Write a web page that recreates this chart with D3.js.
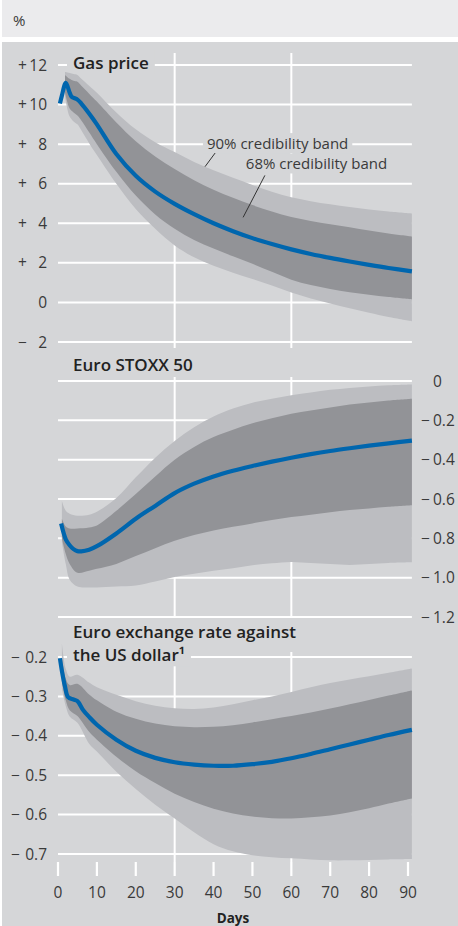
<!DOCTYPE html>
<html>
<head>
<meta charset="utf-8">
<script src="https://cdn.jsdelivr.net/npm/d3@7"></script>
<style>
body { margin: 0; background: #fff; }
svg { display: block; font-family: "Open Sans", sans-serif; }
</style>
</head>
<body>
<div id="chart"></div>
<script>
// x axis
var dayTicks = [0, 10, 20, 30, 40, 50, 60, 70, 80, 90];
var gridDays = [30, 60];

// Gas price
var gasTicks = [12, 10, 8, 6, 4, 2, 0, -2];
var gasDays = [0.5, 1, 2, 3, 3.5, 5, 6, 8, 10, 15, 20, 25, 30, 35, 40, 45, 50, 55, 60, 65, 70, 75, 80, 85, 91];
var gasMid = [10.05, 10.45, 11.1, 10.6, 10.4, 10.25, 10.05, 9.55, 9.0, 7.5, 6.4, 5.6, 4.98, 4.46, 4.0, 3.6, 3.25, 2.95, 2.68, 2.45, 2.25, 2.07, 1.9, 1.74, 1.57];
var gasBandDays = [1.8, 3, 4, 5, 6, 8, 10, 15, 20, 25, 30, 35, 40, 45, 50, 55, 60, 65, 70, 75, 80, 85, 91];
var gasU90 = [11.65, 11.6, 11.55, 11.5, 11.3, 10.95, 10.6, 9.6, 8.75, 8.1, 7.6, 7.1, 6.68, 6.3, 5.94, 5.6, 5.32, 5.12, 4.96, 4.82, 4.7, 4.6, 4.5];
var gasU68 = [11.5, 11.3, 11.2, 11.15, 10.95, 10.55, 10.15, 9.1, 8.15, 7.38, 6.75, 6.18, 5.7, 5.29, 4.92, 4.6, 4.32, 4.12, 3.95, 3.8, 3.63, 3.48, 3.33];
var gasL68 = [10.6, 9.8, 9.6, 9.45, 9.2, 8.6, 8.0, 6.6, 5.4, 4.45, 3.72, 3.15, 2.72, 2.33, 1.95, 1.55, 1.15, 0.88, 0.68, 0.52, 0.39, 0.27, 0.15];
var gasL90 = [10.4, 9.4, 9.15, 9.0, 8.7, 8.05, 7.45, 6.0, 4.72, 3.72, 2.88, 2.28, 1.85, 1.5, 1.18, 0.85, 0.5, 0.2, -0.05, -0.3, -0.52, -0.74, -0.95];

// Euro STOXX 50
var stoxxTicks = [0, -0.2, -0.4, -0.6, -0.8, -1.0, -1.2];
var stoxxDays = [0.8, 2, 3, 4, 5, 6, 8, 10, 15, 20, 25, 30, 35, 40, 45, 50, 55, 60, 65, 70, 75, 80, 85, 91];
var stoxxMid = [-0.725, -0.805, -0.835, -0.855, -0.865, -0.866, -0.858, -0.84, -0.775, -0.70, -0.635, -0.57, -0.522, -0.485, -0.456, -0.432, -0.41, -0.39, -0.372, -0.356, -0.342, -0.329, -0.317, -0.303];
var stoxxBandDays = [1, 2, 3, 5, 8, 10, 15, 20, 25, 30, 35, 40, 45, 50, 55, 60, 65, 70, 75, 80, 85, 91];
var stoxxU90 = [-0.61, -0.66, -0.675, -0.685, -0.68, -0.665, -0.595, -0.49, -0.39, -0.305, -0.235, -0.18, -0.14, -0.11, -0.09, -0.072, -0.058, -0.045, -0.035, -0.028, -0.022, -0.018];
var stoxxU68 = [-0.70, -0.74, -0.75, -0.75, -0.745, -0.735, -0.66, -0.575, -0.485, -0.40, -0.335, -0.285, -0.248, -0.215, -0.19, -0.167, -0.15, -0.135, -0.12, -0.109, -0.099, -0.09];
var stoxxL68 = [-0.80, -0.88, -0.93, -0.975, -0.965, -0.955, -0.93, -0.89, -0.85, -0.812, -0.783, -0.76, -0.741, -0.724, -0.707, -0.692, -0.68, -0.667, -0.656, -0.648, -0.64, -0.632];
var stoxxL90 = [-0.82, -0.93, -1.01, -1.045, -1.05, -1.05, -1.045, -1.04, -1.02, -0.997, -0.98, -0.965, -0.952, -0.937, -0.927, -0.92, -0.925, -0.93, -0.935, -0.93, -0.925, -0.922];

// Euro exchange rate against the US dollar
var fxTicks = [-0.2, -0.3, -0.4, -0.5, -0.6, -0.7];
var fxDays = [0.5, 1, 1.8, 2.6, 4, 5, 6.5, 8, 10, 15, 20, 25, 30, 35, 40, 45, 50, 55, 60, 65, 70, 75, 80, 85, 91];
var fxMid = [-0.203, -0.235, -0.275, -0.302, -0.308, -0.312, -0.335, -0.352, -0.372, -0.41, -0.438, -0.456, -0.467, -0.473, -0.476, -0.476, -0.472, -0.466, -0.457, -0.446, -0.434, -0.422, -0.41, -0.398, -0.385];
var fxBandDays = [1, 2, 3, 5, 8, 10, 15, 20, 25, 30, 35, 40, 45, 50, 55, 60, 65, 70, 75, 80, 85, 91];
var fxU90 = [-0.165, -0.23, -0.25, -0.245, -0.265, -0.277, -0.296, -0.312, -0.324, -0.33, -0.332, -0.328, -0.32, -0.31, -0.3, -0.289, -0.277, -0.266, -0.257, -0.249, -0.24, -0.229];
var fxU68 = [-0.2, -0.255, -0.271, -0.268, -0.295, -0.31, -0.339, -0.357, -0.369, -0.376, -0.378, -0.377, -0.373, -0.366, -0.358, -0.35, -0.341, -0.331, -0.32, -0.309, -0.298, -0.285];
var fxL68 = [-0.26, -0.31, -0.335, -0.35, -0.39, -0.41, -0.453, -0.49, -0.52, -0.547, -0.568, -0.585, -0.597, -0.605, -0.609, -0.61, -0.607, -0.602, -0.594, -0.584, -0.572, -0.559];
var fxL90 = [-0.28, -0.325, -0.351, -0.367, -0.42, -0.44, -0.491, -0.535, -0.575, -0.61, -0.645, -0.675, -0.693, -0.703, -0.708, -0.711, -0.714, -0.716, -0.716, -0.715, -0.714, -0.713];

var bg = "#d5d6d8", light = "#bcbdc1", dark = "#929397", blue = "#0066ae", ink = "#3a3a3a";

var svg = d3.select("#chart").append("svg")
    .attr("width", 458)
    .attr("height", 926);

svg.append("rect").attr("x", 2).attr("y", 0).attr("width", 456).attr("height", 37).attr("fill", "#ebebed");
svg.append("text").attr("x", 13).attr("y", 26).attr("font-size", 15).attr("fill", ink).text("%");
svg.append("rect").attr("x", 2).attr("y", 42).attr("width", 456).attr("height", 884).attr("fill", bg);

// layers, bottom to top
var gridLayer = svg.append("g");
var boxLayer = svg.append("g");
var bandLayer = svg.append("g");
var textLayer = svg.append("g");

var x = d3.scaleLinear().domain([0, 90]).range([58, 408]);

var fmt1 = function (v) { return v == 0 ? "0" : d3.format(".1f")(v); };

var panels = [
    {title: ["Gas price"], titleY: 68.5, y: d3.scaleLinear().domain([-2, 12]).range([342, 65]),
     ticks: gasTicks, fmt: d3.format("d"), side: "left", signX: 18, vTop: 53, vBottom: 348,
     days: gasDays, mid: gasMid, bandDays: gasBandDays, u90: gasU90, u68: gasU68, l68: gasL68, l90: gasL90},
    {title: ["Euro STOXX 50"], titleY: 370.5, y: d3.scaleLinear().domain([-1.2, 0]).range([617, 381]),
     ticks: stoxxTicks, fmt: fmt1, side: "right", signX: 421, vTop: 377, vBottom: 617,
     days: stoxxDays, mid: stoxxMid, bandDays: stoxxBandDays, u90: stoxxU90, u68: stoxxU68, l68: stoxxL68, l90: stoxxL90},
    {title: ["Euro exchange rate against", "the US dollar\u00b9"], titleY: 638, y: d3.scaleLinear().domain([-0.7, -0.2]).range([854, 657]),
     ticks: fxTicks, fmt: fmt1, side: "left", signX: 11, vTop: 652, vBottom: 862,
     days: fxDays, mid: fxMid, bandDays: fxBandDays, u90: fxU90, u68: fxU68, l68: fxL68, l90: fxL90}
];

function knockOut(node, padX, padY) {
    var b = node.getBBox();
    boxLayer.append("rect")
        .attr("x", b.x - padX).attr("y", b.y - padY)
        .attr("width", b.width + 2 * padX).attr("height", b.height + 2 * padY)
        .attr("fill", bg);
}

panels.forEach(function (p) {
    var g = gridLayer.append("g");

    g.selectAll(".h").data(p.ticks).enter().append("line")
        .attr("x1", x(0)).attr("x2", x(91))
        .attr("y1", function (d) { return p.y(d); })
        .attr("y2", function (d) { return p.y(d); })
        .attr("stroke", "#fff").attr("stroke-width", 2);

    g.selectAll(".v").data(gridDays).enter().append("line")
        .attr("x1", function (d) { return x(d); })
        .attr("x2", function (d) { return x(d); })
        .attr("y1", p.vTop).attr("y2", p.vBottom)
        .attr("stroke", "#fff").attr("stroke-width", 2);

    // tick labels: sign and number set apart
    var lab = textLayer.append("g").selectAll("g").data(p.ticks).enter().append("g")
        .attr("font-size", 15.5).attr("fill", ink);
    lab.append("text")
        .attr("x", p.signX)
        .attr("y", function (d) { return p.y(d); })
        .attr("dy", "0.36em")
        .text(function (d) { return d > 0 ? "+" : d < 0 ? "\u2212" : ""; });
    lab.append("text")
        .attr("x", p.side == "left" ? 47 : 433)
        .attr("y", function (d) { return p.y(d); })
        .attr("dy", "0.36em")
        .attr("text-anchor", p.side == "left" ? "end" : "start")
        .text(function (d) { return p.fmt(Math.abs(d)); });

    // title, one text element per line
    p.title.forEach(function (t, i) {
        var tx = textLayer.append("text")
            .attr("x", 73).attr("y", p.titleY + i * 23.3)
            .attr("font-size", 17).attr("font-weight", 600).attr("fill", "#222")
            .text(t);
        knockOut(tx.node(), 6, 0);
    });

    var rows = p.bandDays.map(function (d, i) {
        return {d: d, u90: p.u90[i], u68: p.u68[i], l68: p.l68[i], l90: p.l90[i]};
    });

    var a90 = d3.area()
        .x(function (d) { return x(d.d); })
        .y0(function (d) { return p.y(d.l90); })
        .y1(function (d) { return p.y(d.u90); })
        .curve(d3.curveCatmullRom);
    var a68 = d3.area()
        .x(function (d) { return x(d.d); })
        .y0(function (d) { return p.y(d.l68); })
        .y1(function (d) { return p.y(d.u68); })
        .curve(d3.curveCatmullRom);

    var bands = bandLayer.append("g");
    bands.append("path").datum(rows).attr("d", a90).attr("fill", light);
    bands.append("path").datum(rows).attr("d", a68).attr("fill", dark);

    var line = d3.line()
        .x(function (d, i) { return x(p.days[i]); })
        .y(function (d) { return p.y(d); })
        .curve(d3.curveCatmullRom);

    bands.append("path").datum(p.mid)
        .attr("d", line)
        .attr("fill", "none")
        .attr("stroke", blue)
        .attr("stroke-width", 4.2);
});

// band annotations in the gas price panel
var gy = panels[0].y;
var notes = [
    {text: "90% credibility band", d: 38.3, v: 7.75, from: [40.4, 7.55], to: [37.8, 6.86]},
    {text: "68% credibility band", d: 48.3, v: 6.72, from: [53.2, 6.42], to: [47.6, 4.3]}
];
notes.forEach(function (n) {
    var t = textLayer.append("text")
        .attr("x", x(n.d)).attr("y", gy(n.v))
        .attr("font-size", 15).attr("fill", ink)
        .text(n.text);
    knockOut(t.node(), 4, 0);
    textLayer.append("line")
        .attr("x1", x(n.from[0])).attr("y1", gy(n.from[1]))
        .attr("x2", x(n.to[0])).attr("y2", gy(n.to[1]))
        .attr("stroke", "#333").attr("stroke-width", 1);
});

// x axis under the last panel
var ax = textLayer.append("g");
ax.selectAll("line").data(dayTicks).enter().append("line")
    .attr("x1", function (d) { return x(d); })
    .attr("x2", function (d) { return x(d); })
    .attr("y1", 862).attr("y2", 876)
    .attr("stroke", "#fff").attr("stroke-width", 2.2);
ax.selectAll("text").data(dayTicks).enter().append("text")
    .attr("x", function (d) { return x(d); })
    .attr("y", 898)
    .attr("text-anchor", "middle")
    .attr("font-size", 15.5).attr("fill", ink)
    .text(function (d) { return d; });
ax.append("text")
    .attr("x", x(45)).attr("y", 923)
    .attr("text-anchor", "middle")
    .attr("font-size", 13.5).attr("font-weight", 700).attr("fill", "#222")
    .text("Days");
</script>
</body>
</html>
